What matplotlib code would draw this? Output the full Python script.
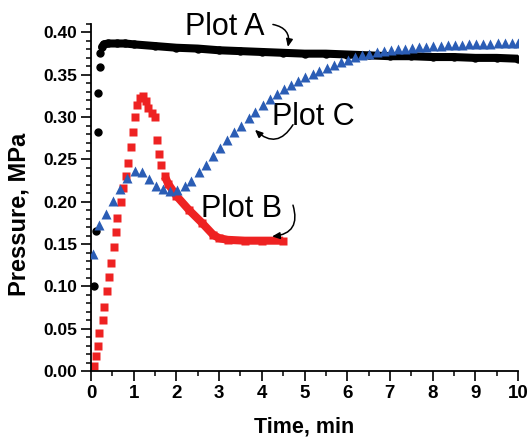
import matplotlib
matplotlib.use("Agg")
import matplotlib.pyplot as plt
from matplotlib.ticker import MultipleLocator, FormatStrFormatter

plt.rcParams['font.family'] = ['Liberation Sans', 'DejaVu Sans']

# Plot A - black circles (initial rise, then dense band)
a_time = [0.08, 0.12, 0.16, 0.17, 0.20, 0.22, 0.26, 0.30, 0.40, 0.60, 0.80, 1.0,
          1.5, 2.0, 2.5, 3.0, 3.5, 4.0, 4.5, 5.0, 5.5, 6.0, 6.5, 7.0, 7.5, 8.0,
          8.5, 9.0, 9.5, 10.0]
a_press = [0.100, 0.165, 0.282, 0.329, 0.359, 0.376, 0.383, 0.386, 0.387, 0.387,
           0.387, 0.386, 0.384, 0.382, 0.381, 0.379, 0.378, 0.377, 0.376, 0.375,
           0.375, 0.374, 0.373, 0.372, 0.372, 0.371, 0.371, 0.370, 0.370, 0.369]

# Plot B - red squares
b_time = [0.08, 0.11, 0.16, 0.19, 0.27, 0.31, 0.37, 0.42, 0.48, 0.53, 0.59, 0.62,
          0.70, 0.76, 0.81, 0.86, 0.93, 0.99, 1.02, 1.08, 1.15, 1.22, 1.28, 1.34,
          1.42, 1.50, 1.54, 1.60, 1.65, 1.73, 1.81, 2.0, 2.3, 2.6, 2.86, 3.0,
          3.2, 3.6, 4.0, 4.5]
b_press = [0.006, 0.018, 0.030, 0.045, 0.060, 0.076, 0.094, 0.111, 0.128, 0.146,
           0.164, 0.181, 0.200, 0.216, 0.231, 0.246, 0.265, 0.283, 0.300, 0.314,
           0.323, 0.325, 0.319, 0.311, 0.305, 0.300, 0.273, 0.257, 0.243, 0.230,
           0.221, 0.207, 0.190, 0.175, 0.161, 0.157, 0.155, 0.154, 0.154, 0.154]

# Plot C - blue triangles
c_time = [0.05, 0.19, 0.35, 0.52, 0.69, 0.85, 1.02, 1.19, 1.35, 1.52, 1.69, 1.85,
          2.02, 2.19, 2.35, 2.52, 2.69, 2.85, 3.02, 3.19, 3.35, 3.52, 3.69, 3.85,
          4.02, 4.19, 4.35, 4.52, 4.69, 4.85, 5.02, 5.19, 5.35, 5.52, 5.69, 5.85,
          6.02, 6.19, 6.35, 6.52, 6.69, 6.85, 7.02, 7.19, 7.35, 7.52, 7.69, 7.85,
          8.02, 8.19, 8.35, 8.52, 8.69, 8.85, 9.02, 9.19, 9.35, 9.52, 9.69, 9.85,
          10.0]
c_press = [0.138, 0.172, 0.186, 0.201, 0.215, 0.228, 0.236, 0.235, 0.227, 0.219,
           0.215, 0.213, 0.214, 0.219, 0.225, 0.235, 0.244, 0.254, 0.263, 0.273,
           0.282, 0.290, 0.299, 0.306, 0.314, 0.321, 0.327, 0.333, 0.338, 0.343,
           0.347, 0.351, 0.354, 0.358, 0.362, 0.365, 0.368, 0.371, 0.373, 0.375,
           0.377, 0.378, 0.379, 0.380, 0.381, 0.382, 0.383, 0.383, 0.384, 0.384,
           0.385, 0.385, 0.385, 0.386, 0.386, 0.386, 0.386, 0.387, 0.387, 0.387,
           0.387]

RED = '#ee2222'
BLUE = '#2b5db5'

fig = plt.figure(figsize=(5.3, 4.37), dpi=100)
ax = fig.add_axes([0.1717, 0.151, 0.8057, 0.794])

# dense parts of the records look like thick bands
ax.plot(a_time[6:], a_press[6:], color='black', lw=5.8, solid_capstyle='round', zorder=3)
ax.plot(a_time, a_press, 'o', color='black', ms=5, zorder=3)

ax.plot(b_time[29:], b_press[29:], color=RED, lw=5.8, solid_capstyle='butt', zorder=2)
ax.plot(b_time, b_press, 's', color=RED, ms=5.6, mec='none', zorder=2)

ax.plot(c_time, c_press, '^', color=BLUE, ms=7, mec='none', zorder=4)

ax.set_xlim(0, 10)
ax.set_ylim(0, 0.41)

for s in ['top', 'right']:
    ax.spines[s].set_visible(False)
for s in ['left', 'bottom']:
    ax.spines[s].set_linewidth(1.3)

ax.xaxis.set_major_locator(MultipleLocator(1))
ax.xaxis.set_minor_locator(MultipleLocator(0.5))
ax.yaxis.set_major_locator(MultipleLocator(0.05))
ax.yaxis.set_minor_locator(MultipleLocator(0.01))
ax.yaxis.set_major_formatter(FormatStrFormatter('%.2f'))
ax.tick_params(which='major', direction='out', length=7, width=1.2, pad=3,
               labelsize=12.5)
ax.tick_params(axis='x', which='major', labelsize=13.5)
ax.tick_params(which='minor', direction='out', length=3.5, width=1.1)
for lab in ax.get_xticklabels() + ax.get_yticklabels():
    lab.set_fontweight('bold')

ax.set_xlabel('Time, min', fontsize=15.5, fontweight='bold', va='center')
ax.set_ylabel('Pressure, MPa', fontsize=17, fontweight='bold')
ax.xaxis.set_label_coords(0.5, -0.16)
ax.yaxis.set_label_coords(-0.142, 0.451)

# text labels with curved arrows
ax.text(3.14, 0.4065, 'Plot A', fontsize=22, ha='center', va='center', clip_on=False)
ax.text(5.2, 0.300, 'Plot C', fontsize=22, ha='center', va='center')
ax.text(3.52, 0.192, 'Plot B', fontsize=22, ha='center', va='center')

arrow = dict(arrowstyle='-|>,head_length=0.45,head_width=0.2', color='black', lw=1.1,
             shrinkA=0, shrinkB=0)
ax.annotate('', xy=(4.61, 0.383), xytext=(4.26, 0.4095), annotation_clip=False,
            arrowprops=dict(arrow, connectionstyle='arc3,rad=-0.5'))
ax.annotate('', xy=(3.84, 0.285), xytext=(4.73, 0.291),
            arrowprops=dict(arrow, connectionstyle='arc3,rad=-0.6'))
ax.annotate('', xy=(4.24, 0.159), xytext=(4.73, 0.196),
            arrowprops=dict(arrow, connectionstyle='arc3,rad=-0.6'))

fig.savefig('out.png', dpi=100)
